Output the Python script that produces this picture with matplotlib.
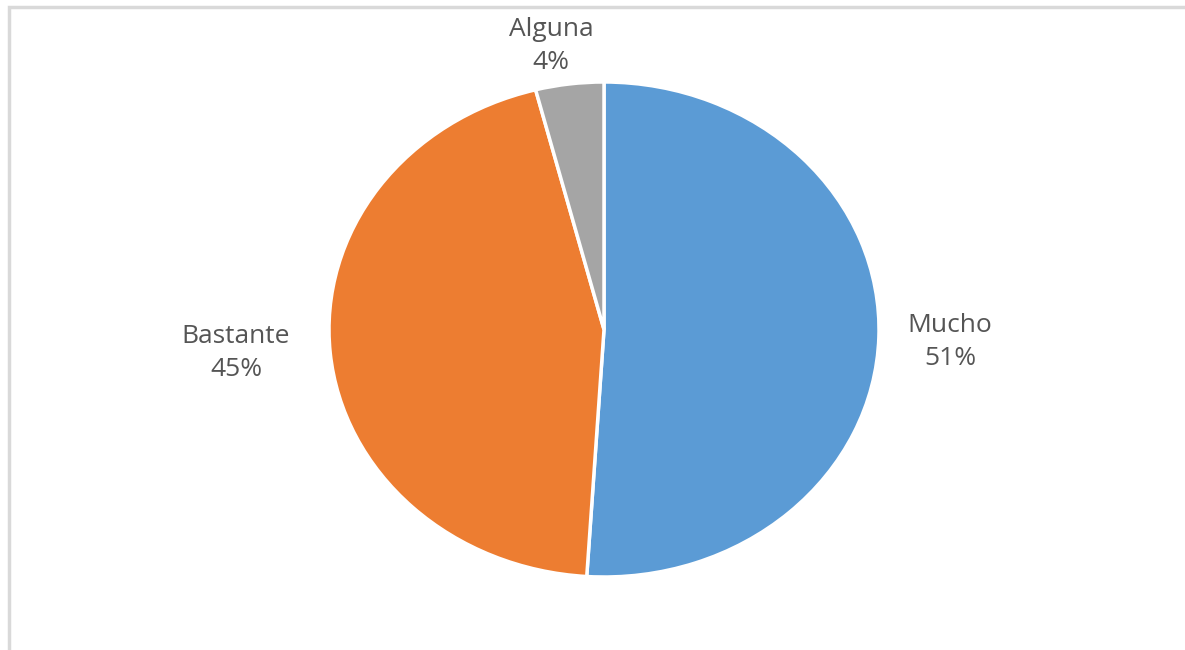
import matplotlib
matplotlib.use("Agg")
import matplotlib.pyplot as plt
from matplotlib.patches import Rectangle

categories = ["Mucho", "Bastante", "Alguna"]
values = [51, 45, 4]
colors = ["#5B9BD5", "#ED7D31", "#A5A5A5"]

W, H = 1185, 650
fig = plt.figure(figsize=(W / 100, H / 100), dpi=100)
fig.patch.set_facecolor("white")

# frame (clipped by the image edges on right and bottom)
fig.patches.append(Rectangle((9 / W, -0.1), 1.2, 1 - 6.5 / H + 0.1,
                             transform=fig.transFigure, fill=False,
                             edgecolor="#D9D9D9", linewidth=2.5))

# pie area in pixels (elliptical in the reference)
left, right, top, bottom = 329, 879, 82, 577
ax = fig.add_axes([left / W, 1 - bottom / H, (right - left) / W, (bottom - top) / H])
ax.pie(values, colors=colors, startangle=90, counterclock=False,
       wedgeprops=dict(edgecolor="white", linewidth=2.5))
ax.set_aspect("auto")
ax.set_xlim(-1, 1)
ax.set_ylim(-1, 1)
ax.axis("off")

label_pos = {"Mucho": (950, 342), "Bastante": (236, 353), "Alguna": (551, 46)}
for cat, val in zip(categories, values):
    x, y = label_pos[cat]
    fig.text(x / W, 1 - y / H, f"{cat}\n{val}%", ha="center", va="center",
             fontsize=19, color="#555555", family="Open Sans", linespacing=1.42)

fig.savefig("out.png", dpi=100, facecolor="white")
